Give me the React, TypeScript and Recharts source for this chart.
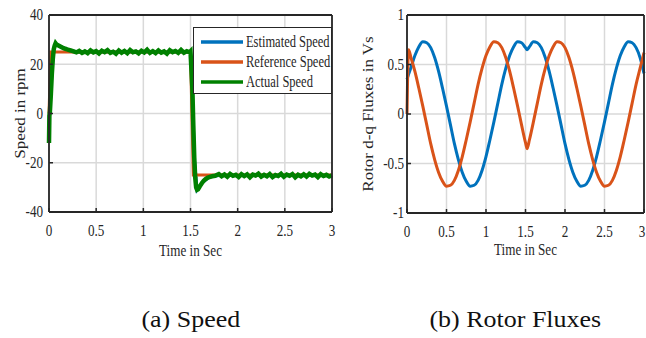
import { CartesianGrid, Line, LineChart, XAxis, YAxis } from 'recharts';

// ---- speed plot data ----
const timeTicks = [0, 0.5, 1, 1.5, 2, 2.5, 3];
const speedTicks = [-40, -20, 0, 20, 40];
const fluxTicks = [-1, -0.5, 0, 0.5, 1];

const refTime = [0, 0.02, 1.5, 1.53, 3];
const refSpeed = [0, 25, 25, -25, -25];

const estTime = [0, 0.004, 0.01, 0.03, 0.05, 0.07, 0.1, 0.2, 0.3, 1.5, 1.52, 1.54, 1.57, 1.62, 1.7, 1.8, 3];
const estSpeed = [-12, -1, 1, 16, 26, 28.5, 27.6, 25.9, 25, 25, 10, -18, -31, -28.3, -25.8, -25.2, -25.2];

const actTime = [
  0, 0.004, 0.01, 0.02, 0.03, 0.04, 0.05, 0.06, 0.07, 0.08, 0.1, 0.12, 0.14, 0.16, 0.18, 0.2, 0.23, 0.26, 0.29,
  0.32, 0.35, 0.38, 0.41, 0.44, 0.47, 0.5, 0.53, 0.56, 0.59, 0.62, 0.65, 0.68, 0.71, 0.74, 0.77, 0.8, 0.83, 0.86,
  0.89, 0.92, 0.95, 0.98, 1.01, 1.04, 1.07, 1.1, 1.13, 1.16, 1.19, 1.22, 1.25, 1.28, 1.31, 1.34, 1.37, 1.4, 1.43,
  1.46, 1.49,
  1.5, 1.52, 1.53, 1.54, 1.55, 1.56, 1.57, 1.58, 1.6, 1.62, 1.64, 1.66, 1.68, 1.7, 1.73, 1.76,
  1.8, 1.83, 1.86, 1.89, 1.92, 1.95, 1.98, 2.01, 2.04, 2.07, 2.1, 2.13, 2.16, 2.19, 2.22, 2.25, 2.28, 2.31, 2.34,
  2.37, 2.4, 2.43, 2.46, 2.49, 2.52, 2.55, 2.58, 2.61, 2.64, 2.67, 2.7, 2.73, 2.76, 2.79, 2.82, 2.85, 2.88, 2.91,
  2.94, 2.97, 3.0,
];
const actSpeed = [
  -12, -1, 1, 8, 16, 22, 26, 27.5, 28.5, 28, 27.6, 27.2, 26.8, 26.4, 26.2, 25.9, 25.6, 25.2, 24.8,
  25.4, 24.6, 25.2, 24.5, 25.6, 24.8, 25.3, 24.4, 25.5, 24.9, 25.7, 24.6, 25.1, 24.3, 25.6, 24.7, 25.4, 24.5, 25.8,
  24.9, 25.2, 24.4, 25.5, 24.8, 25.9, 24.6, 25.3, 24.5, 25.6, 24.7, 25.2, 24.3, 25.7, 24.9, 25.4, 24.6, 25.8, 24.7,
  25.3, 24.8,
  25.2, 10, -5, -18, -26, -30, -31, -30.8, -29.5, -28.3, -27.3, -26.6, -26.1, -25.8, -25.5, -25.3,
  -24.6, -25.5, -24.8, -25.7, -24.5, -25.3, -24.9, -25.8, -24.6, -25.4, -24.7, -25.9, -24.8, -25.2, -24.4, -25.6,
  -24.9, -25.5, -24.6, -25.8, -25.0, -25.4, -24.5, -25.7, -24.8, -25.3, -24.6, -25.9, -24.9, -25.5, -24.7, -25.6,
  -24.5, -25.2, -24.8, -25.8, -24.6, -25.4, -24.9, -25.6, -25.1,
];

// ---- rotor flux data ----
const fluxTime = [
  0, 0.02, 0.05, 0.1, 0.15, 0.2, 0.25, 0.3, 0.35, 0.4, 0.45, 0.5, 0.55, 0.6, 0.65, 0.7, 0.75, 0.8, 0.85, 0.9, 0.95,
  1.0, 1.05, 1.1, 1.15, 1.2, 1.25, 1.3, 1.35, 1.4, 1.45, 1.5, 1.52, 1.55, 1.6, 1.65, 1.7, 1.75, 1.8, 1.85, 1.9,
  1.95, 2.0, 2.05, 2.1, 2.15, 2.2, 2.25, 2.3, 2.35, 2.4, 2.45, 2.5, 2.55, 2.6, 2.65, 2.7, 2.75, 2.8, 2.85, 2.9,
  2.95, 3.0,
];
const fluxD = [
  0.35, 0.4, 0.47, 0.59, 0.68, 0.73, 0.72, 0.67, 0.57, 0.43, 0.26, 0.08, -0.11, -0.3, -0.46, -0.59, -0.68, -0.73,
  -0.72, -0.67, -0.57, -0.43, -0.26, -0.08, 0.11, 0.3, 0.46, 0.59, 0.68, 0.73, 0.72, 0.67, 0.65, 0.68, 0.73, 0.72,
  0.67, 0.57, 0.43, 0.26, 0.08, -0.11, -0.3, -0.46, -0.59, -0.68, -0.73, -0.72, -0.67, -0.57, -0.43, -0.26, -0.08,
  0.11, 0.3, 0.46, 0.59, 0.68, 0.73, 0.72, 0.67, 0.57, 0.41,
];
const fluxQ = [
  0, 0.65, 0.57, 0.43, 0.26, 0.08, -0.11, -0.3, -0.46, -0.59, -0.68, -0.73, -0.72, -0.67, -0.57, -0.43, -0.26,
  -0.08, 0.11, 0.3, 0.46, 0.59, 0.68, 0.73, 0.72, 0.67, 0.57, 0.43, 0.26, 0.08, -0.11, -0.29, -0.35, -0.26, -0.08,
  0.11, 0.3, 0.46, 0.59, 0.68, 0.73, 0.72, 0.67, 0.57, 0.43, 0.26, 0.08, -0.11, -0.3, -0.46, -0.59, -0.68, -0.73,
  -0.72, -0.67, -0.57, -0.43, -0.26, -0.08, 0.11, 0.3, 0.46, 0.62,
];

const rows = (xs: number[], ys: number[]) => xs.map((t, i) => ({ t, v: ys[i] }));

const FONT = '"Liberation Serif", "Times New Roman", serif';
const INK = '#262626';
const BLUE = '#0072BD';
const ORANGE = '#D95319';
const GREEN = '#008000';
const SQ = 0.82; // the source figure is squeezed a little horizontally

const XTick = (p: any) => (
  <text
    transform={`translate(${p.x} ${p.y}) scale(${SQ} 1)`}
    textAnchor="middle"
    dominantBaseline="central"
    fontSize={16}
    fontFamily={FONT}
    fill={INK}
  >
    {p.payload.value}
  </text>
);

const YTick = (p: any) => (
  <text
    transform={`translate(${p.x} ${p.y}) scale(${SQ} 1)`}
    textAnchor="end"
    dominantBaseline="central"
    fontSize={16}
    fontFamily={FONT}
    fill={INK}
  >
    {p.payload.value}
  </text>
);

const xLabel = (text: string, dy: number) => (p: any) => {
  const vb = p.viewBox;
  return (
    <text
      transform={`translate(${vb.x + vb.width / 2} ${vb.y + dy}) scale(${SQ} 1)`}
      textAnchor="middle"
      dominantBaseline="central"
      fontSize={16}
      fontFamily={FONT}
      fill={INK}
    >
      {text}
    </text>
  );
};

const yLabel = (text: string, cx: number) => (p: any) => {
  const vb = p.viewBox;
  return (
    <text
      transform={`translate(${vb.x + cx} ${vb.y + vb.height / 2}) rotate(-90) scale(1 ${SQ})`}
      textAnchor="middle"
      dominantBaseline="central"
      fontSize={17}
      fontFamily={FONT}
      fill={INK}
    >
      {text}
    </text>
  );
};

const axisLine = { stroke: INK, strokeWidth: 1.8 };
const tickLine = { stroke: INK, strokeWidth: 1.5 };

function SpeedChart() {
  return (
    <LineChart width={340} height={270} margin={{ top: 14, right: 7, bottom: 0, left: 0 }}>
      <CartesianGrid stroke="#d9d9d9" strokeWidth={1.5} />
      <XAxis
        dataKey="t"
        type="number"
        domain={[0, 3]}
        ticks={timeTicks}
        height={58}
        tickSize={-4}
        tickMargin={23}
        tick={XTick}
        axisLine={axisLine}
        tickLine={tickLine}
        stroke={INK}
        label={{ content: xLabel('Time in Sec', 39) }}
      />
      <XAxis
        xAxisId="top"
        orientation="top"
        type="number"
        domain={[0, 3]}
        ticks={timeTicks}
        height={1}
        tickSize={-4}
        tick={false}
        axisLine={axisLine}
        tickLine={tickLine}
        stroke={INK}
      />
      <YAxis
        type="number"
        domain={[-40, 40]}
        ticks={speedTicks}
        width={49}
        tickSize={-4}
        tickMargin={10}
        tick={YTick}
        axisLine={axisLine}
        tickLine={tickLine}
        stroke={INK}
        label={{ content: yLabel('Speed in rpm', 20) }}
      />
      <YAxis
        yAxisId="right"
        orientation="right"
        type="number"
        domain={[-40, 40]}
        ticks={speedTicks}
        width={1}
        tickSize={-4}
        tick={false}
        axisLine={axisLine}
        tickLine={tickLine}
        stroke={INK}
      />
      <Line data={rows(estTime, estSpeed)} dataKey="v" stroke={BLUE} strokeWidth={3} dot={false} type="linear" isAnimationActive={false} />
      <Line data={rows(refTime, refSpeed)} dataKey="v" stroke={ORANGE} strokeWidth={3} dot={false} type="linear" isAnimationActive={false} />
      <Line data={rows(actTime, actSpeed)} dataKey="v" stroke={GREEN} strokeWidth={4.5} dot={false} type="linear" isAnimationActive={false} />
    </LineChart>
  );
}

function FluxChart() {
  return (
    <LineChart width={306} height={270} margin={{ top: 14, right: 1, bottom: 0, left: 0 }}>
      <CartesianGrid stroke="#d9d9d9" strokeWidth={1.5} />
      <XAxis
        dataKey="t"
        type="number"
        domain={[0, 3]}
        ticks={timeTicks}
        height={57}
        tickSize={-4}
        tickMargin={23}
        tick={XTick}
        axisLine={axisLine}
        tickLine={tickLine}
        stroke={INK}
        label={{ content: xLabel('Time in Sec', 37) }}
      />
      <XAxis
        xAxisId="top"
        orientation="top"
        type="number"
        domain={[0, 3]}
        ticks={timeTicks}
        height={1}
        tickSize={-4}
        tick={false}
        axisLine={axisLine}
        tickLine={tickLine}
        stroke={INK}
      />
      <YAxis
        type="number"
        domain={[-1, 1]}
        ticks={fluxTicks}
        width={67}
        tickSize={-4}
        tickMargin={7}
        tick={YTick}
        axisLine={axisLine}
        tickLine={tickLine}
        stroke={INK}
        label={{ content: yLabel('Rotor d-q Fluxes in Vs', 28) }}
      />
      <YAxis
        yAxisId="right"
        orientation="right"
        type="number"
        domain={[-1, 1]}
        ticks={fluxTicks}
        width={1}
        tickSize={-4}
        tick={false}
        axisLine={axisLine}
        tickLine={tickLine}
        stroke={INK}
      />
      <Line data={rows(fluxTime, fluxD)} dataKey="v" stroke={BLUE} strokeWidth={3} dot={false} type="monotone" isAnimationActive={false} />
      <Line data={rows(fluxTime, fluxQ)} dataKey="v" stroke={ORANGE} strokeWidth={3} dot={false} type="monotone" isAnimationActive={false} />
    </LineChart>
  );
}

const legendItems = [
  { name: 'Estimated Speed', color: BLUE },
  { name: 'Reference Speed', color: ORANGE },
  { name: 'Actual Speed', color: GREEN },
];

function SpeedLegend() {
  return (
    <div
      style={{
        position: 'absolute',
        left: 193,
        top: 27,
        width: 137,
        height: 65,
        border: `1px solid ${INK}`,
        background: '#fff',
        fontFamily: FONT,
      }}
    >
      {legendItems.map((it, i) => (
        <div key={it.name} style={{ position: 'absolute', left: 7, top: 4 + i * 20, height: 20, display: 'flex', alignItems: 'center' }}>
          <svg width={42} height={6} style={{ display: 'block' }}>
            <line x1={0} y1={3} x2={42} y2={3} stroke={it.color} strokeWidth={3.5} />
          </svg>
          <span
            style={{
              marginLeft: 3,
              fontSize: 16,
              color: INK,
              whiteSpace: 'nowrap',
              display: 'inline-block',
              transform: 'scaleX(0.78)',
              transformOrigin: 'left center',
              lineHeight: '20px',
            }}
          >
            {it.name}
          </span>
        </div>
      ))}
    </div>
  );
}

export default function App() {
  return (
    <div style={{ position: 'absolute', left: 0, top: 0, width: 646, height: 338, background: '#fff', overflow: 'hidden' }}>
      <div style={{ position: 'absolute', left: 0, top: 0 }}>
        <SpeedChart />
      </div>
      <SpeedLegend />
      <div style={{ position: 'absolute', left: 340, top: 0 }}>
        <FluxChart />
      </div>
      <svg width={646} height={338} style={{ position: 'absolute', left: 0, top: 0, pointerEvents: 'none' }}>
        <text transform="translate(190.8 327) scale(1 0.9)" textAnchor="middle" fontSize={26} fontFamily={FONT} fill="#111">
          (a) Speed
        </text>
        <text transform="translate(515.3 327) scale(1 0.9)" textAnchor="middle" fontSize={26} fontFamily={FONT} fill="#111">
          (b) Rotor Fluxes
        </text>
      </svg>
    </div>
  );
}
